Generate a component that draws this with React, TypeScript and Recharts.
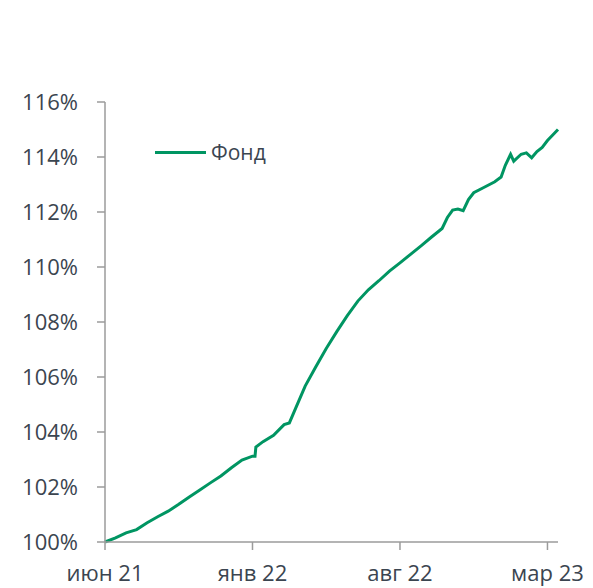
import React from 'react'
import { LineChart, Line, XAxis, YAxis } from 'recharts'

// months since June 2021 (fractional) and fund value, %
const months = [
  0, 0.5, 1, 1.5, 2, 2.5, 3, 3.5, 4, 4.5, 5, 5.5, 6, 6.5, 7, 7.12, 7.16, 7.5, 8, 8.5, 8.75,
  9, 9.5, 10, 10.5, 11, 11.5, 12, 12.5, 13, 13.5, 14, 14.5, 15, 15.5, 16, 16.25, 16.5,
  16.75, 17, 17.25, 17.5, 18, 18.5, 18.8, 19, 19.25, 19.4, 19.75, 20, 20.25, 20.5, 20.75,
  21, 21.25, 21.5
]
const fund = [
  100.0, 100.15, 100.33, 100.45, 100.7, 100.92, 101.12, 101.37, 101.64, 101.89, 102.15,
  102.4, 102.7, 102.98, 103.12, 103.12, 103.45, 103.65, 103.88, 104.27, 104.33,
  104.78, 105.67, 106.36, 107.04, 107.65, 108.23, 108.76, 109.17, 109.5, 109.85, 110.15,
  110.46, 110.77, 111.09, 111.4, 111.8, 112.07, 112.11, 112.05, 112.45, 112.7, 112.9,
  113.1, 113.27, 113.7, 114.1, 113.85, 114.1, 114.15, 113.97, 114.2, 114.35, 114.6,
  114.8, 115.0
]

const xTicks = [0, 7, 14, 21]
const xLabels = ['июн 21', 'янв 22', 'авг 22', 'мар 23']
const yTicks = [100, 102, 104, 106, 108, 110, 112, 114, 116]

const data = months.map((m, i) => ({ m, fund: fund[i] }))

const font = "'Open Sans', sans-serif"
const textColor = '#3b4550'
const axisColor = '#9b9b9b'
const green = '#009562'

export default function App() {
  return (
    <div style={{ position: 'absolute', left: 0, top: 0, width: 593, height: 588, background: '#fff' }}>
      <LineChart
        width={593}
        height={588}
        data={data}
        margin={{ top: 102, right: 35, bottom: 0, left: 0 }}
      >
        <XAxis
          dataKey="m"
          type="number"
          domain={[0, 21.5]}
          ticks={xTicks}
          tickFormatter={(v: number) => xLabels[xTicks.indexOf(v)]}
          height={46}
          tickSize={8}
          tickMargin={15}
          stroke={axisColor}
          strokeWidth={1.5}
          tick={{ fontSize: 22, fill: textColor, fontFamily: font }}
          interval={0}
        />
        <YAxis
          type="number"
          domain={[100, 116]}
          ticks={yTicks}
          tickFormatter={(v: number) => `${v}%`}
          width={105}
          tickSize={8}
          tickMargin={19}
          stroke={axisColor}
          strokeWidth={1.5}
          tick={{ fontSize: 22, fill: textColor, fontFamily: font }}
          interval={0}
        />
        <Line
          dataKey="fund"
          type="linear"
          stroke={green}
          strokeWidth={3}
          dot={false}
          isAnimationActive={false}
        />
      </LineChart>
      {/* legend */}
      <div
        style={{
          position: 'absolute',
          left: 155,
          top: 136,
          display: 'flex',
          alignItems: 'center',
          height: 32,
          fontFamily: font,
          fontSize: 21,
          color: textColor,
          whiteSpace: 'nowrap'
        }}
      >
        <span style={{ display: 'inline-block', width: 51, height: 3, background: green, marginRight: 5 }} />
        <span>Фонд</span>
      </div>
    </div>
  )
}
